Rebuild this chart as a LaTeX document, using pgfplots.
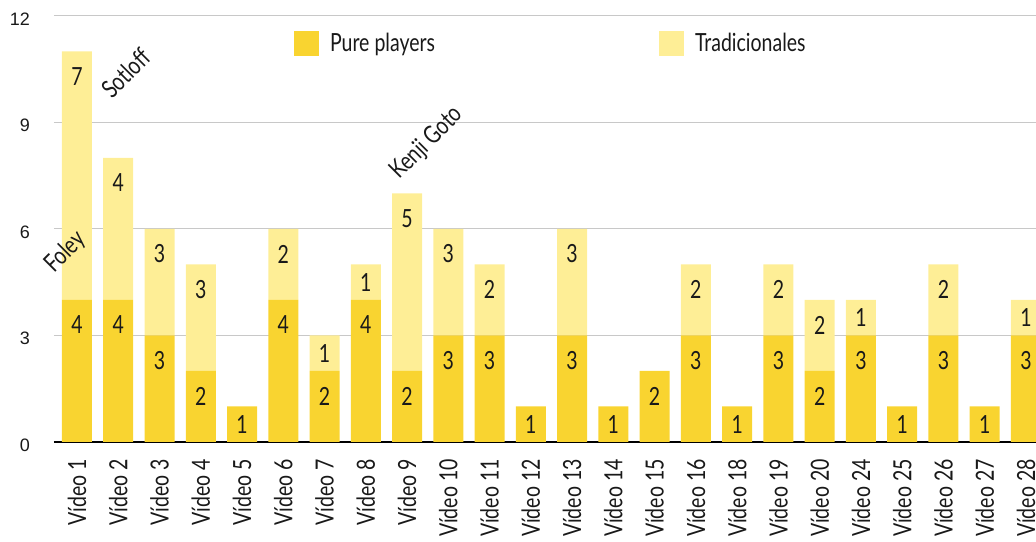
\documentclass[border=0pt]{standalone}
\usepackage{pgfplots}
\usepackage{pgfplotstable}
\pgfplotsset{compat=1.18}
\usepackage{fontspec}
\setmainfont{Lato}[FakeStretch=0.78]
\newfontfamily\tickfont{Liberation Sans}
\definecolor{darky}{RGB}{249,212,48}
\definecolor{lighty}{RGB}{254,238,150}
\definecolor{txt}{RGB}{25,25,25}
\definecolor{gridc}{RGB}{200,200,200}
\pgfplotstableread{
x pure trad
0 4 7
1 4 4
2 3 3
3 2 3
4 1 0
5 4 2
6 2 1
7 4 1
8 2 5
9 3 3
10 3 2
11 1 0
12 3 3
13 1 0
14 2 0
15 3 2
16 1 0
17 3 2
18 2 2
19 3 1
20 1 0
21 3 2
22 1 0
23 3 1
}\datatable
\begin{document}
\begin{tikzpicture}
\begin{axis}[
  scale only axis,
  clip=false,
  width=982pt, height=426pt,
  xmin=-0.557, xmax=23.243,
  ymin=0, ymax=12,
  ytick={0,3,6,9,12},
  ymajorgrids,
  grid style={gridc, line width=1pt},
  major tick length=0pt,
  axis line style={draw=none},
  ybar stacked,
  bar width=30pt,
  xtick=data,
  xticklabels={V\'ideo 1,V\'ideo 2,V\'ideo 3,V\'ideo 4,V\'ideo 5,V\'ideo 6,V\'ideo 7,V\'ideo 8,V\'ideo 9,V\'ideo 10,V\'ideo 11,V\'ideo 12,V\'ideo 13,V\'ideo 14,V\'ideo 15,V\'ideo 16,V\'ideo 18,V\'ideo 19,V\'ideo 20,V\'ideo 24,V\'ideo 25,V\'ideo 26,V\'ideo 27,V\'ideo 28},
  xticklabel style={rotate=90, anchor=east, font=\fontsize{25}{25}\selectfont, text=txt, inner sep=0pt},
  xticklabel shift=17pt,
  yticklabel style={font=\tickfont\fontsize{18}{18}\selectfont, text=txt, anchor=east, inner sep=0pt, yshift=-3pt},
  yticklabel shift=24pt,
  /pgf/number format/assume math mode=true,
  point meta=explicit,
  visualization depends on={rawy \as \h},
  nodes near coords={\pgfmathfloatifflags{\pgfplotspointmeta}{0}{}{\pgfmathprintnumber{\pgfplotspointmeta}}},
  every node near coord/.append style={anchor=center, font=\fontsize{25}{25}\selectfont, text=txt, yshift={max(0,\h*17.75-25)}},
  legend columns=2,
  legend style={draw=none, fill=none, at={(rel axis cs:0.2444,0.9648)}, anchor=north west, inner sep=0pt, outer sep=0pt,
    nodes={inner sep=0pt, font=\fontsize{25}{25}\selectfont, text=txt},
    /tikz/every odd column/.append style={column sep=11pt},
    /tikz/every even column/.append style={column sep=224pt}},
  legend image code/.code={\fill[#1,draw=none] (0pt,-13pt) rectangle (25pt,12pt);},
]
\addplot[fill=darky, draw=none] table[x=x, y=pure, meta=pure] {\datatable};
\addlegendentry{Pure players}
\addplot[fill=lighty, draw=none] table[x=x, y=trad, meta=trad] {\datatable};
\addlegendentry{Tradicionales}
\draw[black, line width=2.5pt] (rel axis cs:0,0) -- (rel axis cs:1,0);
\coordinate (foley) at (axis cs:-0.27,5.35);
\coordinate (sotloff) at (axis cs:1.19,10.39);
\coordinate (kenji) at (axis cs:8.48,8.42);
\coordinate (bl) at (rel axis cs:0,0);
\coordinate (tr) at (rel axis cs:1,1);
\end{axis}
\node[rotate=45, font=\fontsize{25}{25}\selectfont, text=txt] at (foley) {Foley};
\node[rotate=45, font=\fontsize{25}{25}\selectfont, text=txt] at (sotloff) {Sotloff};
\node[rotate=45, font=\fontsize{25}{25}\selectfont, text=txt] at (kenji) {Kenji Goto};
\pgfresetboundingbox
\path[use as bounding box] ([xshift=-54pt,yshift=-100pt]bl) rectangle ([yshift=16pt]tr);
\end{tikzpicture}
\end{document}
